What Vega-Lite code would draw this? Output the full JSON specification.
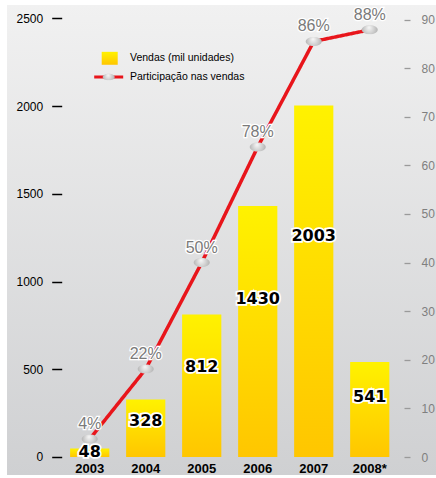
{
  "$schema": "https://vega.github.io/schema/vega-lite/v6.json",
  "width": 429,
  "height": 470,
  "padding": {"left": 7, "top": 5, "right": 0, "bottom": 3},
  "autosize": {"type": "none"},
  "background": "white",
  "config": {
    "view": {"stroke": null, "fill": {"gradient": "linear", "x1": 0, "y1": 0, "x2": 0, "y2": 1, "stops": [{"offset": 0, "color": "#f1f1f1"}, {"offset": 1, "color": "#cfd0d2"}]}},
    "font": "Liberation Sans",
    "axis": {"grid": false, "title": null},
    "legend": {"orient": "none", "title": null, "padding": 0, "rowPadding": 0, "labelFont": "Liberation Sans", "labelFontSize": 10.5, "labelColor": "black"}
  },
  "data": {"values": [
    {"ano": "2003", "vendas": 48, "part": 3.7, "rotulo": "4%"},
    {"ano": "2004", "vendas": 328, "part": 18.1, "rotulo": "22%"},
    {"ano": "2005", "vendas": 812, "part": 40.0, "rotulo": "50%"},
    {"ano": "2006", "vendas": 1430, "part": 63.8, "rotulo": "78%"},
    {"ano": "2007", "vendas": 2003, "part": 85.5, "rotulo": "86%"},
    {"ano": "2008*", "vendas": 541, "part": 87.9, "rotulo": "88%"}
  ]},
  "encoding": {
    "x": {
      "field": "ano", "type": "ordinal", "sort": null,
      "scale": {"paddingInner": 0.3, "paddingOuter": 0.98, "align": 0.575},
      "axis": {"orient": "bottom", "offset": -18, "ticks": false, "tickSize": 0, "domain": false, "labelAngle": 0, "labelFont": "Liberation Sans", "labelFontWeight": "bold", "labelFontSize": 13, "labelColor": "black", "labelPadding": 5, "title": null}
    }
  },
  "layer": [
    {
      "mark": {"type": "bar", "fill": {"gradient": "linear", "x1": 0, "y1": 0, "x2": 0, "y2": 1, "stops": [{"offset": 0, "color": "#fff200"}, {"offset": 1, "color": "#ffc600"}]}},
      "encoding": {
        "y": {"field": "vendas", "type": "quantitative", "scale": {"domain": [-102.6, 2576.3], "nice": false, "zero": false},
          "axis": {"orient": "left", "offset": -54.7, "values": [0, 500, 1000, 1500, 2000, 2500], "format": "d", "domain": false, "tickSize": 10, "tickWidth": 1.5, "tickColor": "black", "labelFont": "Liberation Sans", "labelFontSize": 12, "labelColor": "black", "labelPadding": 9, "title": null}},
        "y2": {"datum": 0},
        "opacity": {"datum": "Vendas (mil unidades)", "type": "ordinal", "scale": {"range": [1]},
          "legend": {"legendX": 93.7, "legendY": 44.3, "symbolType": "M-0.89,-0.72H0.89V0.72H-0.89Z", "symbolSize": 324, "symbolStrokeWidth": 0, "labelOffset": 11.3}
        }
      }
    },
    {
      "mark": {"type": "text", "font": "DejaVu Sans", "fontWeight": "bold", "fontSize": 16, "stroke": "white", "strokeWidth": 3.5, "fill": "white", "baseline": "middle"},
      "encoding": {
        "y": {"field": "vendas", "type": "quantitative", "scale": {"domain": [-162.9, 4089.4], "nice": false, "zero": false}, "axis": null},
        "text": {"field": "vendas", "type": "quantitative"}
      }
    },
    {
      "mark": {"type": "text", "font": "DejaVu Sans", "fontWeight": "bold", "fontSize": 16, "fill": "black", "baseline": "middle"},
      "encoding": {
        "y": {"field": "vendas", "type": "quantitative", "scale": {"domain": [-162.9, 4089.4], "nice": false, "zero": false}, "axis": null},
        "text": {"field": "vendas", "type": "quantitative"}
      }
    },
    {
      "mark": {"type": "line", "strokeWidth": 3.5, "stroke": "#e8151b"},
      "encoding": {
        "y": {"field": "part", "type": "quantitative", "scale": {"domain": [-3.7, 93.0], "nice": false, "zero": false},
          "axis": {"orient": "right", "offset": -32, "values": [0, 10, 20, 30, 40, 50, 60, 70, 80, 90], "domain": false, "tickSize": 6, "tickWidth": 1.3, "tickColor": "#9a9a9a", "labelFont": "Liberation Sans", "labelFontSize": 12, "labelColor": "#7f7f7f", "labelPadding": 11, "title": null}},
        "strokeDash": {"datum": "Participação nas vendas", "type": "nominal", "scale": {"range": [[1, 0]]},
          "legend": {"legendX": 91.2, "legendY": 61.5, "symbolType": "M-1.61,0H1.61", "symbolSize": 324, "symbolStrokeWidth": 3, "symbolStrokeColor": "#e8151b", "labelOffset": 10.8}
        }
      }
    },
    {
      "mark": {"type": "point", "filled": true, "size": 256, "opacity": 1,
        "fill": {"gradient": "radial", "x1": 0.45, "y1": 0.35, "r1": 0, "x2": 0.5, "y2": 0.5, "r2": 0.6, "stops": [{"offset": 0, "color": "#f8f8f8"}, {"offset": 1, "color": "#a8a8a8"}]}},
      "encoding": {
        "y": {"field": "part", "type": "quantitative", "scale": {"domain": [-3.7, 93.0], "nice": false, "zero": false}, "axis": null},
        "shape": {"datum": "marcador", "type": "nominal", "scale": {"range": ["M-1,0A1,0.56,0,1,1,1,0A1,0.56,0,1,1,-1,0Z"]},
          "legend": {"legendX": 95.7, "legendY": 66, "symbolSize": 144, "symbolStrokeWidth": 0, "labelExpr": "''"}
        }
      }
    },
    {
      "mark": {"type": "text", "fontSize": 16, "dy": -15, "stroke": "white", "strokeWidth": 2.5, "fill": "white", "baseline": "middle"},
      "encoding": {
        "y": {"field": "part", "type": "quantitative", "scale": {"domain": [-3.7, 93.0], "nice": false, "zero": false}, "axis": null},
        "text": {"field": "rotulo", "type": "nominal"}
      }
    },
    {
      "mark": {"type": "text", "fontSize": 16, "dy": -15, "fill": "#7a7a7a", "baseline": "middle"},
      "encoding": {
        "y": {"field": "part", "type": "quantitative", "scale": {"domain": [-3.7, 93.0], "nice": false, "zero": false}, "axis": null},
        "text": {"field": "rotulo", "type": "nominal"}
      }
    }
  ],
  "resolve": {"scale": {"y": "independent"}}
}
